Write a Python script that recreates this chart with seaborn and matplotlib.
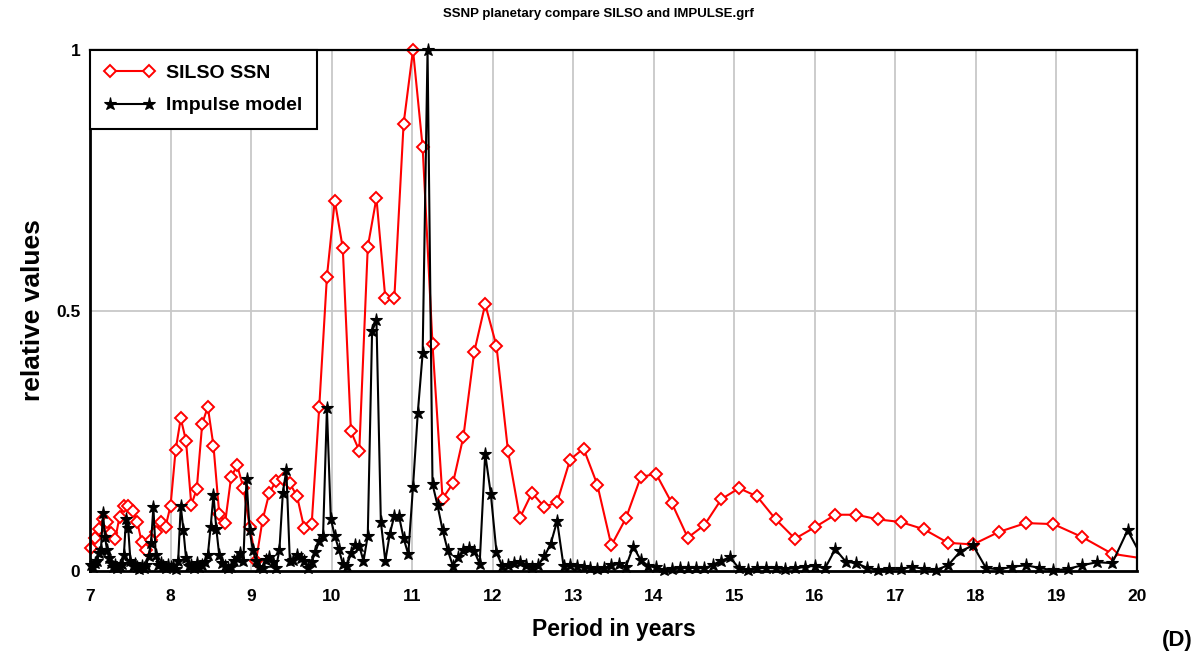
import numpy as np
import pandas as pd
import matplotlib
matplotlib.use("Agg")
import matplotlib.pyplot as plt
from matplotlib.patches import Rectangle
import seaborn as sns

# Spectral bins: SILSO at k/1024 cycles per year, impulse model at k/2048
silso_bins = np.arange(146, 50, -1)
impulse_bins = np.arange(292, 101, -1)
silso_period = 1024.0 / silso_bins
impulse_period = 2048.0 / impulse_bins

silso_ssn = [
    0.045, 0.064, 0.081, 0.100, 0.095, 0.072, 0.062, 0.104, 0.125, 0.125,
    0.116, 0.095, 0.056, 0.040, 0.060, 0.075, 0.095, 0.085, 0.125, 0.232,
    0.293, 0.250, 0.127, 0.157, 0.283, 0.315, 0.240, 0.109, 0.093, 0.180,
    0.203, 0.160, 0.085, 0.020, 0.098, 0.149, 0.173, 0.176, 0.168, 0.144,
    0.082, 0.090, 0.314, 0.565, 0.711, 0.620, 0.268, 0.231, 0.622, 0.716,
    0.524, 0.524, 0.858, 1.000, 0.813, 0.435, 0.139, 0.168, 0.258, 0.420,
    0.512, 0.432, 0.230, 0.102, 0.150, 0.123, 0.132, 0.214, 0.235, 0.166,
    0.049, 0.101, 0.180, 0.187, 0.131, 0.064, 0.088, 0.138, 0.159, 0.143,
    0.099, 0.062, 0.084, 0.108, 0.108, 0.099, 0.094, 0.080, 0.054, 0.051,
    0.075, 0.092, 0.090, 0.065, 0.033, 0.024,
]

impulse_model = [
    0.012, 0.008, 0.015, 0.020, 0.034, 0.040, 0.112, 0.066, 0.040, 0.025,
    0.015, 0.008, 0.012, 0.006, 0.010, 0.014, 0.030, 0.100, 0.082, 0.020,
    0.010, 0.014, 0.008, 0.004, 0.010, 0.006, 0.012, 0.029, 0.053, 0.123,
    0.030, 0.012, 0.016, 0.010, 0.006, 0.012, 0.008, 0.010, 0.004, 0.020,
    0.125, 0.079, 0.025, 0.010, 0.012, 0.006, 0.015, 0.008, 0.012, 0.018,
    0.030, 0.085, 0.146, 0.080, 0.030, 0.015, 0.010, 0.006, 0.008, 0.020,
    0.025, 0.035, 0.020, 0.177, 0.078, 0.040, 0.019, 0.008, 0.006, 0.022,
    0.026, 0.018, 0.006, 0.040, 0.150, 0.194, 0.019, 0.022, 0.030, 0.025,
    0.019, 0.006, 0.018, 0.036, 0.058, 0.067, 0.312, 0.100, 0.068, 0.042,
    0.014, 0.010, 0.034, 0.050, 0.048, 0.019, 0.068, 0.460, 0.482, 0.095,
    0.019, 0.071, 0.106, 0.106, 0.063, 0.032, 0.162, 0.304, 0.418, 1.000,
    0.167, 0.126, 0.079, 0.040, 0.010, 0.026, 0.040, 0.045, 0.038, 0.014,
    0.225, 0.148, 0.036, 0.009, 0.011, 0.015, 0.017, 0.012, 0.008, 0.011,
    0.028, 0.052, 0.096, 0.009, 0.011, 0.009, 0.008, 0.005, 0.003, 0.005,
    0.012, 0.014, 0.008, 0.047, 0.021, 0.010, 0.007, 0.002, 0.004, 0.005,
    0.006, 0.006, 0.005, 0.012, 0.020, 0.026, 0.005, 0.002, 0.005, 0.006,
    0.005, 0.004, 0.005, 0.008, 0.010, 0.005, 0.042, 0.018, 0.015, 0.006,
    0.002, 0.003, 0.004, 0.008, 0.004, 0.002, 0.011, 0.038, 0.049, 0.006,
    0.003, 0.008, 0.011, 0.006, 0.001, 0.004, 0.011, 0.017, 0.015, 0.078,
    0.022,
]

x_ticks = list(range(7, 21))
y_ticks = [0, 0.5, 1]
y_tick_labels = ["0", "0.5", "1"]

silso_df = pd.DataFrame({"period": silso_period, "value": silso_ssn})
impulse_df = pd.DataFrame({"period": impulse_period, "value": impulse_model})

sns.set_style("white")
plt.rcParams["font.family"] = ["Liberation Sans", "DejaVu Sans"]
plt.rcParams["font.weight"] = "bold"
for key in ["text.color", "axes.labelcolor", "xtick.color", "ytick.color"]:
    plt.rcParams[key] = "black"

fig = plt.figure(figsize=(11.96, 6.55), dpi=100)
ax = fig.add_axes([0.07525, 0.12824, 0.8754, 0.79542])

sns.lineplot(data=silso_df, x="period", y="value", ax=ax, estimator=None,
             color="#ff0000", linewidth=1.5, marker="D", markersize=5.8,
             markerfacecolor="white", markeredgecolor="#ff0000",
             markeredgewidth=1.4, label="SILSO SSN")
sns.lineplot(data=impulse_df, x="period", y="value", ax=ax, estimator=None,
             color="black", linewidth=1.5, marker="*", markersize=9.5,
             markerfacecolor="black", markeredgecolor="black",
             markeredgewidth=0.8, label="Impulse model")

# keep markers on the frame visible while the lines stop at the x limits
for line in ax.lines:
    line.set_clip_path(Rectangle((-0.01, -0.03), 1.01, 1.06, transform=ax.transAxes))

ax.set_xlim(7, 20)
ax.set_ylim(0, 1)
ax.set_xticks(x_ticks)
ax.set_xticklabels([str(t) for t in x_ticks])
ax.set_yticks(y_ticks)
ax.set_yticklabels(y_tick_labels)
ax.tick_params(axis="x", length=0, labelsize=12.5, pad=13)
ax.tick_params(axis="y", length=0, labelsize=12.5, pad=7)
for lab in ax.get_xticklabels() + ax.get_yticklabels():
    lab.set_fontweight("bold")

ax.grid(True, color="#c8c8c8", linewidth=1.3)
ax.set_axisbelow(True)

for side in ["left", "bottom"]:
    ax.spines[side].set_linewidth(2.0)
for side in ["top", "right"]:
    ax.spines[side].set_linewidth(1.6)
for sp in ax.spines.values():
    sp.set_color("black")
    sp.set_visible(True)

ax.set_xlabel("Period in years", fontsize=16.5, fontweight="bold", labelpad=10)
ax.set_ylabel("relative values", fontsize=19, fontweight="bold", labelpad=8)

leg = ax.legend(loc="upper left", bbox_to_anchor=(0, 1), borderaxespad=0,
                frameon=True, fancybox=False, framealpha=1, edgecolor="black",
                prop={"size": 14, "weight": "bold"}, numpoints=2,
                handlelength=2.6, handletextpad=0.55, labelspacing=0.75,
                borderpad=0.75)
leg.get_frame().set_linewidth(1.5)

fig.text(0.5, 0.978, "SSNP planetary compare SILSO and IMPULSE.grf",
         ha="center", va="center", fontsize=9.5, fontweight="bold")
fig.text(0.997, 0.006, "(D)", ha="right", va="bottom", fontsize=16,
         fontweight="bold")

fig.savefig("out.png", dpi=100)
